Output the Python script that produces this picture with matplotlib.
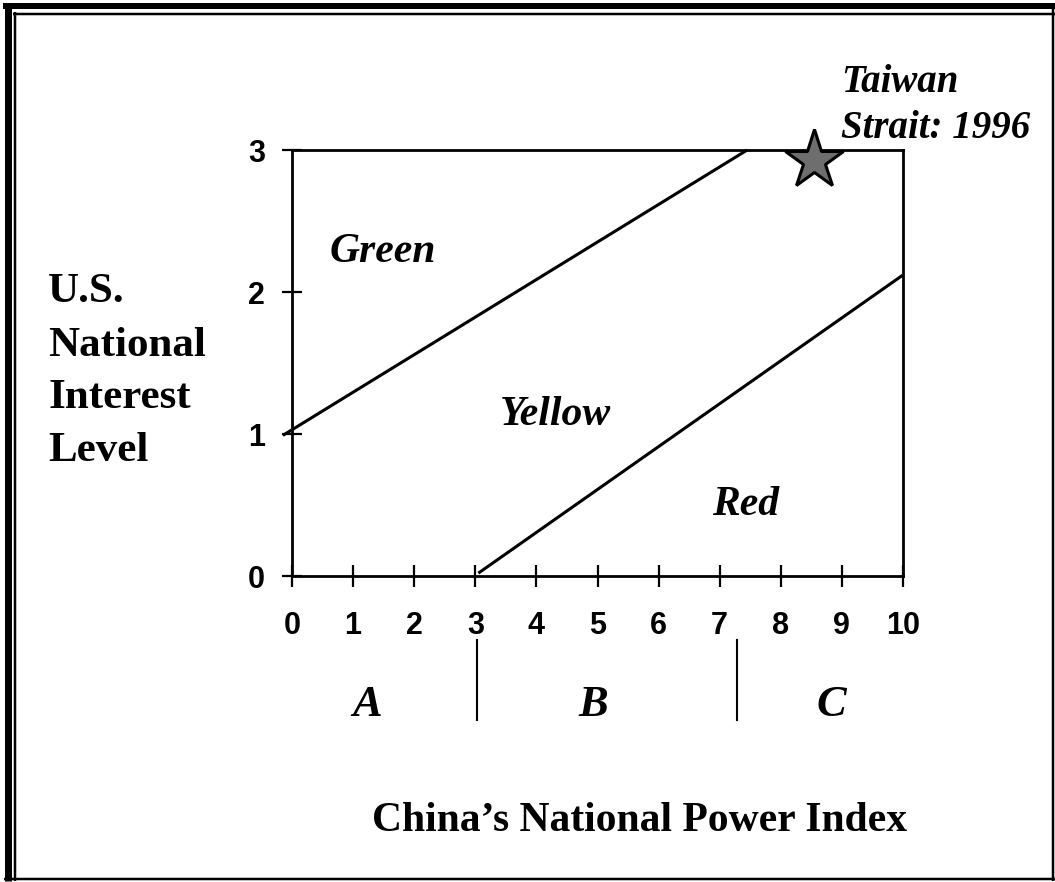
import matplotlib
matplotlib.use("Agg")
import matplotlib.pyplot as plt
from matplotlib.lines import Line2D
import matplotlib.transforms as mtransforms

# ---- data ----
x_ticks = [0, 1, 2, 3, 4, 5, 6, 7, 8, 9, 10]
y_ticks = [0, 1, 2, 3]
upper_x = [-0.15, 7.45]
upper_y = [0.99, 3.0]
lower_x = [3.05, 10.0]
lower_y = [0.02, 2.12]
star_x = [8.54]
star_y = [2.93]
zone_labels = ["Green", "Yellow", "Red"]
zone_x = [0.62, 3.41, 6.88]
zone_y = [2.21, 1.06, 0.43]
band_labels = ["A", "B", "C"]
band_x = [1.23, 4.93, 8.83]
band_edges = [3.03, 7.29]
ylabel_lines = ["U.S.", "National", "Interest", "Level"]
xlabel_text = "China\u2019s National Power Index"
annot_lines = ["Taiwan", "Strait: 1996"]

W, H = 1055, 882
fig = plt.figure(figsize=(W / 100, H / 100), dpi=100)
fig.patch.set_facecolor("white")

def fx(px):
    return px / W

def fy(py):
    return 1 - py / H

ax = fig.add_axes([fx(292), fy(576), fx(903) - fx(292), fy(150) - fy(576)])
ax.set_xlim(0, 10)
ax.set_ylim(0, 3)
for s in ax.spines.values():
    s.set_linewidth(2.0)
    s.set_color("black")
ax.set_xticks(x_ticks)
ax.set_yticks(y_ticks)
ax.tick_params(axis="x", direction="inout", length=15.8, width=1.6, pad=17,
               labelsize=22, colors="black")
ax.tick_params(axis="y", direction="inout", length=15, width=1.6, pad=12,
               labelsize=22, colors="black")
for lab in ax.get_xticklabels() + ax.get_yticklabels():
    lab.set_fontfamily("Liberation Sans")
    lab.set_fontweight("bold")

ax.plot(upper_x, upper_y, color="black", lw=2.2, clip_on=False, solid_capstyle="butt")
ax.plot(lower_x, lower_y, color="black", lw=2.2, clip_on=False, solid_capstyle="butt")
ax.plot(star_x, star_y, marker="*", markersize=44, markerfacecolor="#6e6e6e",
        markeredgecolor="black", markeredgewidth=2.2, linestyle="none",
        clip_on=False, zorder=5)

serif_bi = dict(family="Liberation Serif", weight="bold", style="italic", color="black")
for lab, xx, yy in zip(zone_labels, zone_x, zone_y):
    ax.text(xx, yy, lab, fontsize=30, ha="left", va="baseline", **serif_bi)

# band separators and labels below the axis
trans = mtransforms.blended_transform_factory(ax.transData, fig.transFigure)
for xe in band_edges:
    ax.add_line(Line2D([xe, xe], [fy(640), fy(720)], transform=trans,
                       color="black", lw=1.5, clip_on=False))
for lab, xx in zip(band_labels, band_x):
    ax.text(xx, fy(716), lab, transform=trans, fontsize=32, ha="center",
            va="baseline", **serif_bi)

# y label (left, multi-line)
serif_b = dict(family="Liberation Serif", weight="bold", color="black")
for line, base in zip(ylabel_lines, [302, 356, 408, 461]):
    fig.text(fx(48), fy(base), line, fontsize=31, ha="left", va="baseline", **serif_b)

# x label
fig.text(fx(640), fy(831), xlabel_text, fontsize=30, ha="center", va="baseline", **serif_b)

# annotation
for line, base in zip(annot_lines, [92, 138]):
    fig.text(fx(841), fy(base), line, fontsize=28, ha="left", va="baseline", **serif_bi)

# frame
def fline(x0, y0, x1, y1, px):
    fig.add_artist(Line2D([fx(x0), fx(x1)], [fy(y0), fy(y1)], transform=fig.transFigure,
                          color="black", lw=px * 0.72, solid_capstyle="butt"))

fline(7.5, 3, 7.5, 881, 7)      # outer left
fline(3, 6, 1055, 6, 6)         # outer top
fline(14.5, 12, 14.5, 881, 2.5) # inner left
fline(13, 13.5, 1055, 13.5, 2.5)  # inner top
fline(4, 879, 1055, 879, 2.5)   # bottom
fline(1053, 3, 1053, 881, 2.5)  # right

fig.savefig("out.png", dpi=100)
